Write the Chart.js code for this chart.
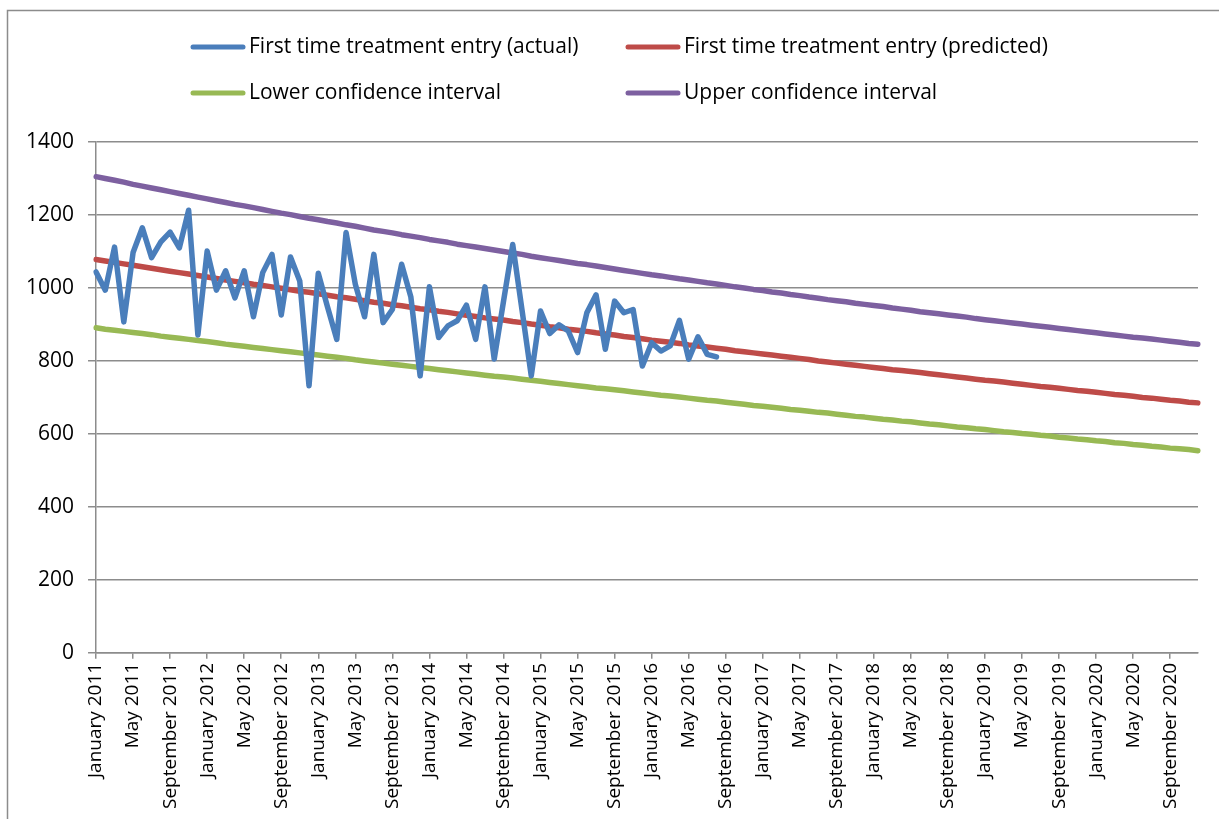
<!DOCTYPE html>
<html lang="en">

<head>
  <meta charset="UTF-8">
  <meta name="viewport" content="width=device-width, initial-scale=1.0">
  <title>First time treatment entry</title>
  <script src="https://cdn.jsdelivr.net/npm/chart.js"></script>
  <style>
    html, body { margin: 0; padding: 0; background: #ffffff; }
  </style>
</head>

<body>
  <canvas id="grafico" width="1219" height="819"></canvas>
</body>

</html>

<script>
  const months = ['January', 'February', 'March', 'April', 'May', 'June',
    'July', 'August', 'September', 'October', 'November', 'December'];
  const years = [2011, 2012, 2013, 2014, 2015, 2016, 2017, 2018, 2019, 2020];

  // monthly figures, January 2011 - August 2016
  const actual = [
    1044, 994, 1112, 907, 1097, 1165, 1083, 1126, 1153, 1110, 1213, 871,
    1101, 994, 1047, 973, 1047, 921, 1042, 1092, 926, 1085, 1019, 732,
    1040, 948, 859, 1152, 1010, 921, 1092, 905, 941, 1065, 975, 759,
    1003, 864, 896, 910, 953, 859, 1003, 805, 963, 1119, 940, 759,
    937, 875, 899, 882, 823, 932, 981, 832, 964, 932, 941, 786,
    850, 827, 841, 911, 805, 866, 818, 811
  ];

  // January 2011 - December 2020
  const predicted = [
    1078, 1074, 1070, 1066, 1062, 1058, 1054, 1050, 1046, 1042,
    1038, 1034, 1030, 1026, 1022, 1018, 1014, 1010, 1007, 1003,
    999, 995, 991, 988, 984, 980, 976, 973, 969, 965,
    961, 958, 954, 951, 947, 943, 940, 936, 933, 929,
    925, 922, 918, 915, 912, 908, 905, 901, 898, 894,
    891, 887, 884, 881, 877, 874, 871, 867, 864, 861,
    857, 854, 851, 848, 844, 841, 838, 835, 832, 828,
    825, 822, 819, 816, 813, 810, 807, 804, 800, 797,
    794, 791, 788, 785, 782, 779, 776, 774, 771, 768,
    765, 762, 759, 756, 753, 750, 747, 745, 742, 739,
    736, 733, 730, 728, 725, 722, 719, 717, 714, 711,
    708, 706, 703, 700, 698, 695, 692, 690, 687, 685
  ];

  const lower = [
    891, 887, 884, 881, 878, 875, 872, 868, 865, 862,
    859, 856, 853, 850, 846, 843, 840, 837, 834, 831,
    828, 825, 822, 819, 816, 813, 810, 807, 803, 800,
    797, 794, 791, 788, 785, 782, 779, 776, 773, 770,
    767, 764, 761, 758, 756, 753, 750, 747, 744, 741,
    738, 735, 732, 729, 726, 724, 721, 718, 715, 712,
    709, 706, 704, 701, 698, 695, 692, 690, 687, 684,
    681, 678, 676, 673, 670, 667, 665, 662, 659, 657,
    654, 651, 648, 646, 643, 640, 638, 635, 633, 630,
    627, 625, 622, 619, 617, 614, 612, 609, 606, 604,
    601, 599, 596, 594, 591, 589, 586, 584, 581, 579,
    576, 574, 571, 569, 566, 564, 561, 559, 557, 554
  ];

  const upper = [
    1305, 1300, 1295, 1290, 1284, 1279, 1274, 1269, 1264, 1259,
    1254, 1249, 1244, 1239, 1234, 1229, 1225, 1220, 1215, 1210,
    1205, 1201, 1196, 1191, 1187, 1182, 1178, 1173, 1169, 1164,
    1159, 1155, 1151, 1146, 1142, 1138, 1133, 1129, 1125, 1120,
    1116, 1112, 1108, 1104, 1100, 1096, 1092, 1087, 1083, 1079,
    1075, 1071, 1067, 1064, 1060, 1056, 1052, 1048, 1044, 1040,
    1036, 1033, 1029, 1025, 1022, 1018, 1014, 1011, 1007, 1003,
    1000, 996, 993, 989, 986, 982, 979, 975, 972, 968,
    965, 962, 958, 955, 952, 949, 945, 942, 939, 935,
    932, 929, 926, 923, 920, 916, 913, 910, 907, 904,
    901, 898, 895, 892, 889, 886, 883, 880, 877, 874,
    871, 868, 865, 863, 860, 857, 854, 851, 848, 846
  ];

  const seriesNames = [
    'First time treatment entry (actual)',
    'First time treatment entry (predicted)',
    'Lower confidence interval',
    'Upper confidence interval'
  ];
  const yTicks = [0, 200, 400, 600, 800, 1000, 1200, 1400];

  const cores = ['#4A7EBB', '#BE4B48', '#98B954', '#7D60A0'];
  const fonte = '"Open Sans"';

  const categorias = [];
  years.forEach(ano => months.forEach(mes => categorias.push(mes + ' ' + ano)));

  // chart frame (top and left edge only, as in the original)
  const moldura = {
    id: 'moldura',
    beforeDraw(chart) {
      const ctx = chart.ctx;
      ctx.save();
      ctx.strokeStyle = '#8c8c8c';
      ctx.lineWidth = 1.5;
      ctx.beginPath();
      ctx.moveTo(7.5, 819);
      ctx.lineTo(7.5, 10.5);
      ctx.lineTo(1219, 10.5);
      ctx.stroke();
      ctx.restore();
    }
  };

  // two-column legend at the top
  const legenda = {
    id: 'legenda',
    afterDraw(chart) {
      const ctx = chart.ctx;
      const pos = [[190, 47], [625, 47], [190, 93], [625, 93]];
      ctx.save();
      ctx.font = '21px ' + fonte;
      ctx.textBaseline = 'middle';
      ctx.lineCap = 'round';
      chart.data.datasets.forEach((ds, i) => {
        const x = pos[i][0];
        const y = pos[i][1];
        ctx.strokeStyle = ds.borderColor;
        ctx.lineWidth = 5;
        ctx.beginPath();
        ctx.moveTo(x + 3, y);
        ctx.lineTo(x + 53, y);
        ctx.stroke();
        ctx.fillStyle = '#000000';
        ctx.fillText(ds.label, x + 59, y);
      });
      ctx.restore();
    }
  };

  const series = [actual, predicted, lower, upper];

  const data = {
    labels: categorias,
    datasets: series.map((valores, i) => ({
      label: seriesNames[i],
      data: valores,
      borderColor: cores[i],
      backgroundColor: cores[i],
      borderWidth: 5.5,
      pointRadius: 0,
      pointHoverRadius: 0,
      tension: 0,
      fill: false,
      borderCapStyle: 'round',
      borderJoinStyle: 'round'
    }))
  };

  const config = {
    type: 'line',
    data: data,
    options: {
      responsive: false,
      animation: false,
      layout: {
        padding: { top: 142, left: 12, right: 21, bottom: 6 }
      },
      plugins: {
        legend: { display: false },
        tooltip: { enabled: false }
      },
      scales: {
        x: {
          offset: false,
          border: { color: '#8c8c8c', width: 1.5 },
          grid: {
            drawOnChartArea: false,
            drawTicks: true,
            tickLength: 6,
            lineWidth: 1.5,
            color: (c) => (c.index % 4 === 0 ? '#8c8c8c' : 'rgba(0,0,0,0)')
          },
          afterFit: (eixo) => {
            // last label is empty, so no room is needed on the right
            eixo.paddingRight = 0;
          },
          ticks: {
            autoSkip: false,
            minRotation: 90,
            maxRotation: 90,
            padding: 4,
            color: '#000000',
            font: { family: fonte, size: 19 },
            callback: function (valor, i) {
              return i % 4 === 0 ? this.getLabelForValue(valor) : '';
            }
          }
        },
        y: {
          min: 0,
          max: 1400,
          border: { color: '#8c8c8c', width: 1.5 },
          grid: {
            color: '#8c8c8c',
            lineWidth: 1.5,
            tickLength: 8
          },
          afterBuildTicks: (eixo) => {
            eixo.ticks = yTicks.map(v => ({ value: v }));
          },
          ticks: {
            padding: 14,
            color: '#000000',
            font: { family: fonte, size: 21 },
            callback: (valor) => String(valor)
          }
        }
      }
    },
    plugins: [moldura, legenda]
  };

  const grafico = new Chart(document.getElementById('grafico'), config);
</script>
